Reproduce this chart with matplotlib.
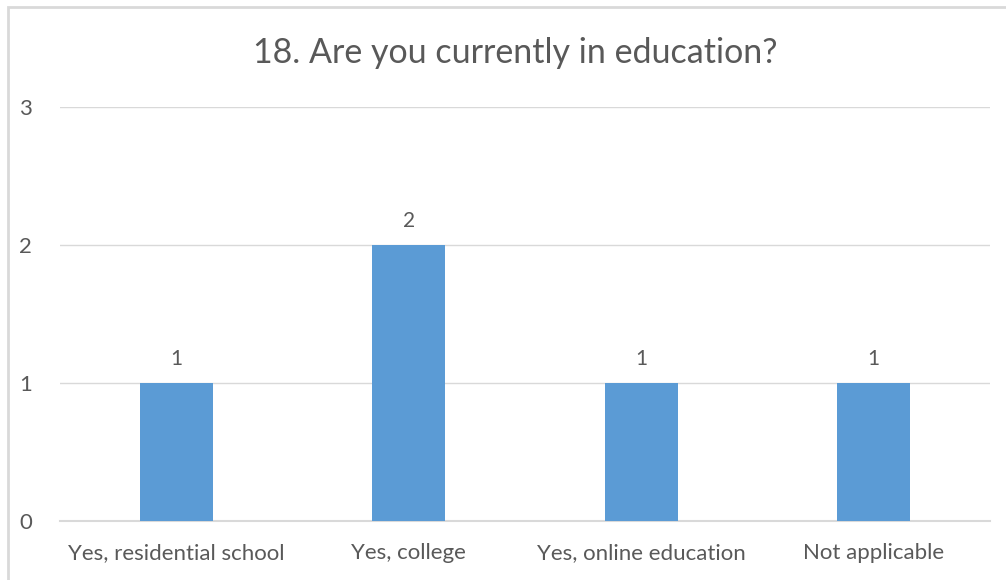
import matplotlib.pyplot as plt
from matplotlib.patches import Rectangle

categories = ["Yes, residential school", "Yes, college", "Yes, online education", "Not applicable"]
counts = [1, 2, 1, 1]
y_ticks = [0, 1, 2, 3]

bar_color = "#5B9BD5"
text_color = "#595959"
grid_color = "#D9D9D9"

plt.rcParams['font.family'] = ['Lato', 'DejaVu Sans']

fig = plt.figure(figsize=(10.06, 5.8), dpi=100)
ax = fig.add_axes([60 / 1006, 59 / 580, 930 / 1006, 414 / 580])

x = range(len(categories))
bars = ax.bar(x, counts, width=0.314, color=bar_color, zorder=3)

for b, v in zip(bars, counts):
    ax.text(b.get_x() + b.get_width() / 2, v + 0.1, str(v),
            ha='center', va='bottom', fontsize=15, color=text_color)

ax.set_xlim(-0.5, len(categories) - 0.5)
ax.set_ylim(0, 3)
ax.set_yticks(y_ticks)
ax.set_xticks(list(x))
ax.set_xticklabels(categories)
ax.tick_params(axis='both', length=0, labelsize=16, labelcolor=text_color)
ax.tick_params(axis='y', pad=20)
ax.tick_params(axis='x', pad=16)
ax.grid(axis='y', color=grid_color, linewidth=1, zorder=0)
ax.axhline(0, color=grid_color, linewidth=1.5, zorder=2, clip_on=False)
for s in ax.spines.values():
    s.set_visible(False)

fig.text(515 / 1006, 1 - 53 / 580, "18. Are you currently in education?",
         ha='center', va='center', fontsize=24.5, color=text_color)

# light frame around the whole chart
fig.patches.append(Rectangle((8 / 1006, -0.01), 1.0, 1 - 7 / 580 + 0.01,
                             transform=fig.transFigure, fill=False,
                             edgecolor=grid_color, linewidth=2))

fig.savefig("out.png", dpi=100)
